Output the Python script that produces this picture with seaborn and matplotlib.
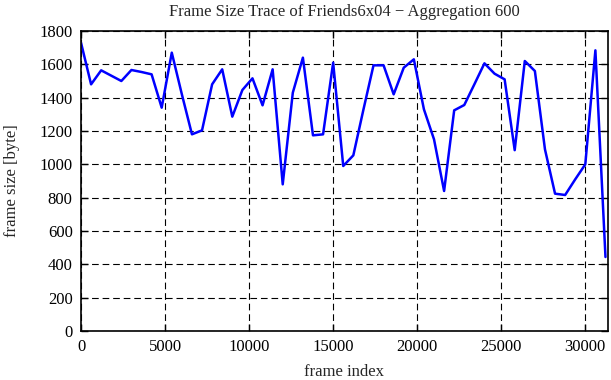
import numpy as np
import pandas as pd
import matplotlib
matplotlib.use("Agg")
import matplotlib.pyplot as plt
import seaborn as sns

# Aggregated frame sizes, one value per 600 frames
aggregation = 600
frame_size = [
    1730, 1480, 1564, 1532, 1500, 1566, 1554, 1540, 1340, 1670,
    1420, 1180, 1204, 1480, 1570, 1286, 1446, 1516, 1354, 1570,
    880, 1430, 1640, 1174, 1180, 1610, 990, 1054, 1328, 1594,
    1594, 1420, 1580, 1630, 1330, 1150, 840, 1324, 1356, 1480,
    1606, 1544, 1510, 1085, 1620, 1560, 1090, 824, 816, 910,
    1000, 1684, 444,
]
frame_index = [i * aggregation for i in range(len(frame_size))]

x_ticks = [0, 5000, 10000, 15000, 20000, 25000, 30000]
y_ticks = [0, 200, 400, 600, 800, 1000, 1200, 1400, 1600, 1800]


def main():
    df = pd.DataFrame({"frame index": frame_index, "frame size": frame_size})

    sns.set_theme(style="ticks")
    plt.rcParams["font.family"] = ["Liberation Serif", "DejaVu Serif"]
    plt.rcParams["font.size"] = 12

    fig = plt.figure(figsize=(6.11, 3.80), dpi=100)
    ax = fig.add_axes([81 / 611, 49 / 380, 527 / 611, 300 / 380])

    sns.lineplot(data=df, x="frame index", y="frame size", ax=ax,
                 color="#0000ff", linewidth=1.8)

    ax.set_xlim(0, 31350)
    ax.set_ylim(0, 1800)
    ax.set_xticks(x_ticks)
    ax.set_yticks(y_ticks)
    ax.grid(True, color="black", linestyle=(0, (6, 3.5)), linewidth=0.8)
    ax.tick_params(direction="in", top=True, right=True, length=5,
                   width=1, colors="black", labelsize=12, pad=6)
    for s in ax.spines.values():
        s.set_linewidth(1.2)
        s.set_color("black")

    ax.set_xlabel("frame index", fontsize=12, labelpad=6)
    ax.set_ylabel("frame size [byte]", fontsize=12, labelpad=14)
    ax.set_title("Frame Size Trace of Friends6x04 \u2212 Aggregation 600",
                 fontsize=12, pad=11)

    fig.savefig("out.png", dpi=100)


if __name__ == "__main__":
    main()
